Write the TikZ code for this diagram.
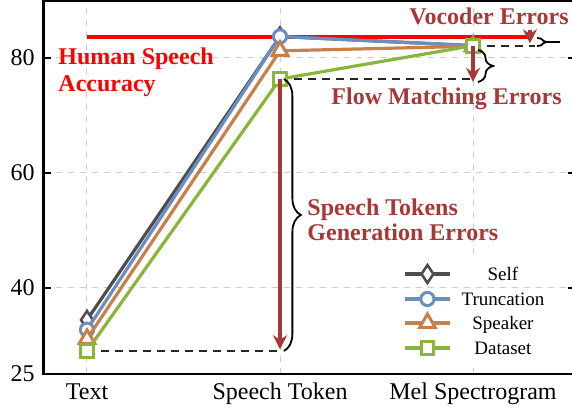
\documentclass[tikz,border=0pt]{standalone}
\usepackage{fontspec}
\setmainfont{Liberation Serif}
\usetikzlibrary{arrows.meta,positioning,shapes.geometric,decorations.pathreplacing}
\definecolor{selfgray}{RGB}{77,77,77}
\definecolor{truncblue}{RGB}{108,142,191}
\definecolor{speakorange}{RGB}{201,128,72}
\definecolor{datagreen}{RGB}{138,181,60}
\definecolor{errred}{RGB}{168,56,56}
\definecolor{gridgray}{RGB}{205,205,205}
\tikzset{
  series/.style={line width=1.6pt,line join=round},
  selfmark/.style={diamond,draw=selfgray,fill=white,line width=1.3pt,minimum width=6.5pt,minimum height=9.5pt,inner sep=0pt},
  truncmark/.style={circle,draw=truncblue,fill=white,line width=1.5pt,minimum size=6.6pt,inner sep=0pt},
  speakmark/.style={regular polygon,regular polygon sides=3,draw=speakorange,fill=white,line width=1.5pt,minimum size=9pt,inner sep=0pt},
  datamark/.style={rectangle,draw=datagreen,fill=white,line width=1.5pt,minimum size=6.4pt,inner sep=0pt},
  errarrow/.style={-{Stealth[length=7pt,width=7pt]},errred,line width=1.8pt},
  errlabel/.style={font=\fontsize{12}{12.5}\selectfont\bfseries,text=errred,inner sep=0pt},
  guide/.style={dash pattern=on 4pt off 3pt,line width=0.9pt,black!85},
  bracket/.style={decorate,decoration={brace,amplitude=#1},line width=0.9pt},
  gridline/.style={gridgray,line width=0.5pt,dash pattern=on 3pt off 3pt},
  ticklabel/.style={font=\fontsize{12}{14}\selectfont,inner sep=0pt},
  legtext/.style={font=\fontsize{9.5}{11}\selectfont,inner sep=0pt}
}

\begin{document}
\begin{tikzpicture}[x=96.5pt,y=2.875pt]
  \useasboundingbox (-0.45078,18.7391) rectangle (2.51295,90.0435);
  % grid and axis
  \foreach \c in {0,1,2}
    \draw[gridline] (\c,25) -- (\c,89.85);
  \fill[white] (1.611,26.74) rectangle (2.461,45.52);
  \foreach \v in {40,60,80} {
    \draw[gridline] (-0.225,\v) -- (2.53,\v);
    \draw[line width=0.8pt] (-0.225,\v) -- ++(3.5pt,0);
    \draw[line width=0.8pt] (2.53,\v) -- ++(-3.5pt,0);
    \node[ticklabel,anchor=east] (y\v) at (-0.269,\v) {\v};
  }
  \node[ticklabel,anchor=east] (y25) at (-0.269,25) {25};
  \draw[line width=1.4pt] (-0.225,25) rectangle (2.53,89.85);
  \node[ticklabel,anchor=base] (xText) at (0,20.48) {Text};
  \node[ticklabel,anchor=base] (xToken) at (1,20.48) {Speech Token};
  \node[ticklabel,anchor=base] (xMel) at (2,20.48) {Mel Spectrogram};

  % human speech accuracy
  \coordinate (hsL) at (0,83.6);
  \coordinate (hsR) at (2.285,83.6);
  \draw[red,line width=1.7pt] (hsL) -- (hsR);
  \node[font=\fontsize{12}{13.75}\selectfont\bfseries,text=red,inner sep=0pt,
        anchor=base west,align=left] (hsLabel) at (-0.150,74.08) {Human Speech\\Accuracy};

  % series
  \coordinate (s0) at (0,34.4);  \coordinate (s1) at (1,83.7);  \coordinate (s2) at (2,82.1);
  \coordinate (t0) at (0,32.7);  \coordinate (t1) at (1,83.7);  \coordinate (t2) at (2,82.1);
  \coordinate (p0) at (0,31.1);  \coordinate (p1) at (1,81.2);  \coordinate (p2) at (2,82.0);
  \coordinate (d0) at (0,29.0);  \coordinate (d1) at (1,76.3);  \coordinate (d2) at (2,82.1);
  \draw[series,selfgray] (s0) -- (s1) -- (s2);
  \foreach \i in {0,1,2} \node[selfmark] (s\i m) at (s\i) {};
  \draw[series,truncblue] (t0) -- (t1) -- (t2);
  \foreach \i in {0,1,2} \node[truncmark] (t\i m) at (t\i) {};
  \draw[series,speakorange] (p0) -- (p1) -- (p2);
  \foreach \i in {0,1,2} \node[speakmark] (p\i m) at (p\i) {};
  \draw[series,datagreen] (d0) -- (d1) -- (d2);

  % error guides
  \draw[guide] (d0) -- (d0 -| d1);
  \draw[guide] (d1) -- (d1 -| d2);
  \coordinate (vocEnd) at (2.321,82.1);
  \draw[guide] (d2) -- (vocEnd);
  \foreach \i in {0,1,2} \node[datamark] (d\i m) at (d\i) {};

  \coordinate (stTip) at (1,29.3);
  \draw[errarrow] (d1) -- (stTip);
  \coordinate (fmTip) at (2,75.8);
  \draw[errarrow] (d2) -- (fmTip);
  \coordinate (vocTop) at (2.295,84.9);
  \coordinate (vocBot) at (2.295,82.5);
  \draw[errarrow] (vocTop) -- (vocBot);

  \coordinate (stBrTop) at (1.02,76.3);
  \coordinate (stBrBot) at (1.02,29.0);
  \draw[bracket=8.5pt] (stBrTop) -- (stBrBot);
  \coordinate (fmBrTop) at (2.026,81.35);
  \coordinate (fmBrBot) at (2.026,75.78);
  \draw[bracket=7.5pt] (fmBrTop) -- (fmBrBot);
  \coordinate (vocBrTop) at (2.332,83.43);
  \coordinate (vocBrBot) at (2.332,82.04);
  \draw[bracket=5.5pt] (vocBrTop) -- (vocBrBot);
  \coordinate (vocBrTip) at (2.389,82.74);
  \coordinate (vocBrEnd) at (2.451,82.74);
  \draw[line width=0.9pt] (vocBrTip) -- (vocBrEnd);

  \node[errlabel,anchor=base] (vocLabel) at (2.083,85.7) {Vocoder Errors};
  \node[errlabel,anchor=base] (fmLabel) at (1.863,71.8) {Flow Matching Errors};
  \node[errlabel,anchor=base west,align=left] (stLabel) at (1.140,48.30) {Speech Tokens\\Generation Errors};

  % legend
  \foreach \name/\col/\mk/\v in {Self/selfgray/selfmark/42.39,Truncation/truncblue/truncmark/38.04,
      Speaker/speakorange/speakmark/33.87,Dataset/datagreen/datamark/29.52} {
    \coordinate (leg\name A) at (1.648,\v);
    \coordinate (leg\name B) at (1.881,\v);
    \draw[series,\col] (leg\name A) -- (leg\name B);
    \node[\mk] (leg\name M) at (1.764,\v) {};
    \node[legtext,anchor=base] (leg\name T) at (2.155,\v-1.1) {\name};
  }
\end{tikzpicture}
\end{document}
